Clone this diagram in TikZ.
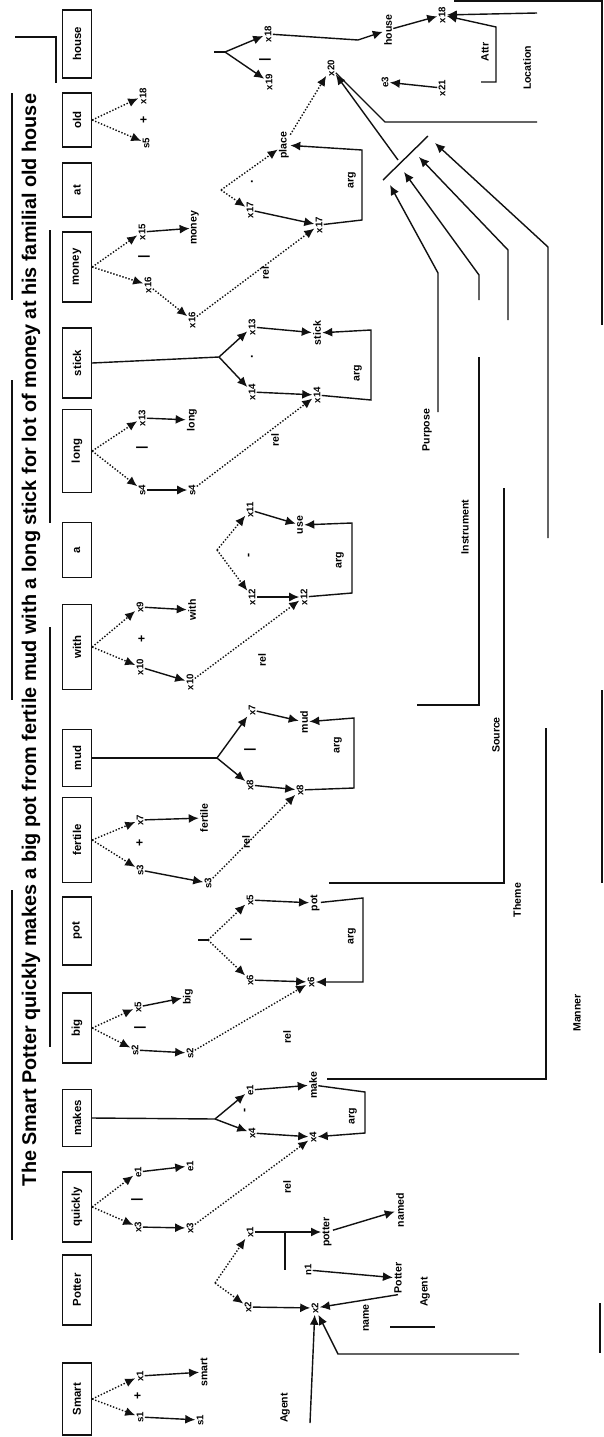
\documentclass[tikz,border=0pt]{standalone}
\usepackage{fontspec}
\setmainfont{Liberation Sans}
\usetikzlibrary{arrows.meta}
\definecolor{inkline}{HTML}{111111}
\tikzset{
  wordbox/.style={rectangle, draw=inkline, line width=0.8pt, rotate=90, minimum height=0.58cm, inner sep=1pt, font=\fontsize{6.5}{8}\selectfont\bfseries},
  var/.style={rotate=90, inner sep=0.6pt, font=\fontsize{5.5}{6}\selectfont\bfseries},
  pred/.style={rotate=90, inner sep=0.6pt, font=\fontsize{6}{7}\selectfont\bfseries},
  role/.style={rotate=90, inner sep=0.6pt, font=\fontsize{6}{7}\selectfont\bfseries},
  signmark/.style={rotate=90, inner sep=0pt, font=\fontsize{7}{8}\selectfont\bfseries},
  headline/.style={rotate=90, inner sep=0pt, font=\fontsize{11.3}{13}\selectfont\bfseries},
  link/.style={line width=0.8pt, draw=inkline},
  flow/.style={-{Latex[length=2mm, width=1.8mm]}, line width=0.8pt, draw=inkline},
  dots/.style={flow, densely dotted}
}
\begin{document}
\begin{tikzpicture}[x=0.02cm, y=-0.02cm]
\useasboundingbox (0,0) rectangle (603,1437);

% sentence and frame
\node[headline] (sentence) at (31,640) {The Smart Potter quickly makes a big pot from fertile mud with a long stick for lot of money at his familial old house};
\draw[link] (12,93) -- (12,300);
\draw[link] (12,380) -- (12,700);
\draw[link] (12,890) -- (12,1240);
\draw[link] (15,37) -- (56,37) -- (56,83);
\draw[link] (50,230) -- (50,523);
\draw[link] (50,627) -- (50,1047);
\draw[link] (454,1) -- (602,1) -- (602,325);
\draw[link] (602,690) -- (602,883);
\draw[link] (600,1303) -- (600,1353);

% word boxes
\node[wordbox, minimum width=1.44cm] (smartw) at (77,1399) {Smart};
\node[wordbox, minimum width=1.40cm] (potterw) at (77,1290) {Potter};
\node[wordbox, minimum width=1.40cm] (quicklyw) at (77,1207) {quickly};
\node[wordbox, minimum width=1.14cm] (makesw) at (77,1118) {makes};
\node[wordbox, minimum width=1.40cm] (bigw) at (77,1028) {big};
\node[wordbox, minimum width=1.36cm] (potw) at (77,931) {pot};
\node[wordbox, minimum width=1.70cm] (fertilew) at (77,840) {fertile};
\node[wordbox, minimum width=1.14cm] (mudw) at (77,758) {mud};
\node[wordbox, minimum width=1.70cm] (withw) at (77,647) {with};
\node[wordbox, minimum width=1.10cm] (aw) at (77,550) {a};
\node[wordbox, minimum width=1.66cm] (longw) at (77,451) {long};
\node[wordbox, minimum width=1.40cm] (stickw) at (77,363) {stick};
\node[wordbox, minimum width=1.40cm] (moneyw) at (77,267) {money};
\node[wordbox, minimum width=1.08cm] (atw) at (77,190) {at};
\node[wordbox, minimum width=1.08cm] (oldw) at (77,120) {old};
\node[wordbox, minimum width=1.36cm] (housew) at (77,44) {house};

% Smart
\node[var] (sma) at (140,1376) {x1};
\node[var] (smb) at (140,1417) {s1};
\node[signmark] (smsign) at (138,1396) {+};
\node[pred] (smp) at (204,1372) {smart};
\node[var] (sms) at (200,1420) {s1};
\draw[dots] (smartw.south) -- (sma);
\draw[dots] (smartw.south) -- (smb);
\draw[flow] (sma) -- (smp);
\draw[flow] (smb) -- (sms);

% Potter
\coordinate (ptrfork) at (215,1283);
\coordinate (ptrbranch) at (285,1232);
\coordinate (ptrin) at (310,1423);
\coordinate (ptrside) at (519,1354);
\coordinate (ptrbend) at (338,1354);
\coordinate (ptrl1) at (390,1327);
\coordinate (ptrl2) at (435,1327);
\node[var] (ptra) at (250,1232) {x1};
\node[var] (ptrc) at (248,1307) {x2};
\node[pred] (ptrp) at (327,1232) {potter};
\node[var] (ptrn) at (308,1270) {n1};
\node[pred] (ptrnm) at (400,1210) {named};
\node[pred] (ptrq) at (398,1278) {Potter};
\node[var] (ptrb) at (315,1308) {x2};
\node[role] (ptrname) at (366,1318) {name};
\node[role] (ptrrole) at (425,1292) {Agent};
\node[role] (ptrag) at (285,1408) {Agent};
\draw[dots] (ptrfork) -- (ptra);
\draw[dots] (ptrfork) -- (ptrc);
\draw[flow] (ptra) -- (ptrp);
\draw[link] (ptrbranch) -- (ptrbranch |- ptrn);
\draw[flow] (ptrp) -- (ptrnm);
\draw[flow] (ptrn) -- (ptrq);
\draw[flow] (ptrq.west) -- (ptrb);
\draw[flow] (ptrc) -- (ptrb);
\draw[flow] (ptrin) -- (ptrb);
\draw[flow] (ptrside) -- (ptrbend) -- (ptrb);
\draw[link] (ptrl1) -- (ptrl2);

% quickly
\node[var] (qua) at (138,1172) {e1};
\node[var] (qub) at (138,1227) {x3};
\node[signmark] (qusign) at (137,1200) {|};
\node[var] (quc) at (190,1166) {e1};
\node[var] (qud) at (190,1228) {x3};
\node[role] (qurel) at (287,1187) {rel};
\draw[dots] (quicklyw.south) -- (qua);
\draw[dots] (quicklyw.south) -- (qub);
\draw[flow] (qua) -- (quc);
\draw[flow] (qub) -- (qud);

% makes
\coordinate (mkfork) at (215,1119);
\coordinate (mktop) at (546,728);
\node[var] (mka) at (250,1090) {e1};
\node[var] (mkc) at (252,1133) {x4};
\node[signmark] (mksign) at (246,1110) {-};
\node[pred] (mkp) at (313,1085) {make};
\node[var] (mkb) at (313,1137) {x4};
\node[role] (mkarg) at (353,1116) {arg};
\draw[link] (makesw.south) -- (mkfork);
\draw[flow] (mkfork) -- (mka);
\draw[flow] (mkfork) -- (mkc);
\draw[flow] (mka) -- (mkp);
\draw[flow] (mkc) -- (mkb);
\draw[flow] (mkp) -- (365,1092) -- (365,1133) -- (mkb);
\draw[link] (mkp.south) ++(9,-6) -- (546,1079) -- (mktop);
\draw[dots] (qud) -- (mkb);

% big
\node[var] (bga) at (138,1007) {x5};
\node[var] (bgb) at (135,1050) {s2};
\node[signmark] (bgsign) at (140,1028) {|};
\node[pred] (bgp) at (188,997) {big};
\node[var] (bgs) at (190,1053) {s2};
\node[role] (bgrel) at (287,1037) {rel};
\draw[dots] (bigw.south) -- (bga);
\draw[dots] (bigw.south) -- (bgb);
\draw[flow] (bga) -- (bgp);
\draw[flow] (bgb) -- (bgs);

% pot
\coordinate (ptstub) at (198,940);
\coordinate (ptfork) at (208,940);
\coordinate (pttop) at (504,488);
\node[var] (pta) at (250,900) {x5};
\node[var] (ptc) at (250,980) {x6};
\node[signmark] (ptsign) at (246,940) {|};
\node[pred] (ptp) at (315,903) {pot};
\node[var] (ptb) at (311,982) {x6};
\node[role] (ptarg) at (352,936) {arg};
\node[role] (pttheme) at (517,900) {Theme};
\node[role] (ptmanner) at (577,1013) {Manner};
\draw[link] (ptstub) -- (ptfork);
\draw[dots] (ptfork) -- (pta);
\draw[dots] (ptfork) -- (ptc);
\draw[flow] (pta) -- (ptp);
\draw[flow] (ptc) -- (ptb);
\draw[flow] (ptp) -- (363,898) -- (363,982) -- (ptb);
\draw[link] (ptp.south) ++(8,-20) -- (504,883) -- (pttop);
\draw[dots] (bgs) -- (ptb);

% fertile
\node[var] (fta) at (140,820) {x7};
\node[var] (ftb) at (140,870) {s3};
\node[signmark] (ftsign) at (140,843) {+};
\node[pred] (ftp) at (204,818) {fertile};
\node[var] (fts) at (208,883) {s3};
\node[role] (ftrel) at (246,842) {rel};
\draw[dots] (fertilew.south) -- (fta);
\draw[dots] (fertilew.south) -- (ftb);
\draw[flow] (fta) -- (ftp);
\draw[flow] (ftb) -- (fts);

% mud
\coordinate (mdfork) at (217,758);
\coordinate (mdend) at (417,705);
\node[var] (mda) at (252,710) {x7};
\node[var] (mdc) at (250,785) {x8};
\node[signmark] (mdsign) at (250,750) {|};
\node[pred] (mdp) at (304,722) {mud};
\node[var] (mdb) at (300,790) {x8};
\node[role] (mdarg) at (338,745) {arg};
\node[role] (mdsource) at (496,735) {Source};
\draw[link] (mudw.south) -- (mdfork);
\draw[flow] (mdfork) -- (mda);
\draw[flow] (mdfork) -- (mdc);
\draw[flow] (mda) -- (mdp);
\draw[flow] (mdc) -- (mdb);
\draw[flow] (mdb) -- (354,788) -- (354,718) -- (mdp);
\draw[link] (mdend) -- (479,705) -- (479,357);
\draw[dots] (fts) -- (mdb);

% with
\node[var] (wta) at (140,607) {x9};
\node[var] (wtb) at (140,667) {x10};
\node[signmark] (wtsign) at (142,639) {+};
\node[pred] (wtp) at (192,610) {with};
\node[var] (wts) at (190,682) {x10};
\node[role] (wtrel) at (262,660) {rel};
\draw[dots] (withw.south) -- (wta);
\draw[dots] (withw.south) -- (wtb);
\draw[flow] (wta) -- (wtp);
\draw[flow] (wtb) -- (wts);

% a
\coordinate (afork) at (217,550);
\node[var] (aa) at (250,510) {x11};
\node[var] (ac) at (252,597) {x12};
\node[signmark] (asign) at (250,555) {-};
\node[pred] (ap) at (300,525) {use};
\node[var] (ab) at (304,597) {x12};
\node[role] (aarg) at (340,560) {arg};
\node[role] (ainstr) at (465,527) {Instrument};
\draw[dots] (afork) -- (aa);
\draw[dots] (afork) -- (ac);
\draw[flow] (aa) -- (ap);
\draw[flow] (ac) -- (ab);
\draw[flow] (ab) -- (352,593) -- (352,523) -- (ap);
\draw[dots] (wts) -- (ab);

% long
\node[var] (lga) at (142,418) {x13};
\node[var] (lgb) at (142,490) {s4};
\node[signmark] (lgsign) at (142,448) {|};
\node[pred] (lgp) at (192,420) {long};
\node[var] (lgs) at (192,490) {s4};
\node[role] (lgrel) at (275,440) {rel};
\draw[dots] (longw.south) -- (lga);
\draw[dots] (longw.south) -- (lgb);
\draw[flow] (lga) -- (lgp);
\draw[flow] (lgb) -- (lgs);

% stick
\coordinate (skfork) at (219,357);
\coordinate (skend) at (438,412);
\node[var] (ska) at (252,327) {x13};
\node[var] (skc) at (252,392) {x14};
\node[signmark] (sksign) at (252,357) {.};
\node[pred] (skp) at (317,333) {stick};
\node[var] (skb) at (317,395) {x14};
\node[role] (skarg) at (358,373) {arg};
\node[role] (skpurp) at (427,430) {Purpose};
\draw[link] (stickw.south) -- (skfork);
\draw[flow] (skfork) -- (ska);
\draw[flow] (skfork) -- (skc);
\draw[flow] (ska) -- (skp);
\draw[flow] (skc) -- (skb);
\draw[flow] (skb) -- (371,400) -- (371,330) -- (skp);
\draw[dots] (lgs) -- (skb);

% money
\node[var] (mna) at (142,232) {x15};
\node[var] (mnb) at (148,285) {x16};
\node[signmark] (mnsign) at (144,257) {|};
\node[pred] (mnp) at (195,228) {money};
\node[var] (mns) at (192,320) {x16};
\node[role] (mnrel) at (265,273) {rel};
\draw[dots] (moneyw.south) -- (mna);
\draw[dots] (moneyw.south) -- (mnb);
\draw[flow] (mna) -- (mnp);
\draw[dots] (mnb) -- (mns);

% at
\coordinate (atfork) at (221,190);
\node[pred] (ata) at (284,145) {place};
\node[var] (atc) at (250,210) {x17};
\node[signmark] (atsign) at (252,182) {.};
\node[var] (ath) at (319,225) {x17};
\node[role] (atarg) at (352,180) {arg};
\draw[dots] (atfork) -- (ata);
\draw[dots] (atfork) -- (atc);
\draw[flow] (atc) -- (ath);
\draw[flow] (ath) -- (362,220) -- (362,150) -- (ata);
\draw[dots] (mns) -- (ath);

% old
\node[var] (oda) at (143,96) {x18};
\node[var] (odb) at (146,143) {s5};
\node[signmark] (odsign) at (144,120) {+};
\draw[dots] (oldw.south) -- (oda);
\draw[dots] (oldw.south) -- (odb);

% house
\coordinate (hsstub) at (214,52);
\coordinate (hsfork) at (225,52);
\coordinate (hsr1) at (537,13);
\coordinate (hsr2) at (481,82);
\coordinate (hsright) at (537,122);
\node[var] (hsa) at (268,34) {x18};
\node[var] (hsb) at (269,82) {x19};
\node[signmark] (hssign) at (265,60) {|};
\node[pred] (hsp) at (388,30) {house};
\node[var] (hsq) at (442,15) {x18};
\node[var] (hsc) at (331,68) {x20};
\node[var] (hse) at (385,82) {e3};
\node[var] (hsf) at (442,88) {x21};
\node[role] (hsattr) at (485,52) {Attr};
\node[role] (hsloc) at (527,68) {Location};
\draw[link] (hsstub) -- (hsfork);
\draw[flow] (hsfork) -- (hsa);
\draw[flow] (hsfork) -- (hsb);
\draw[flow] (hsa) -- (358,40) -- (hsp);
\draw[flow] (hsp) -- (hsq);
\draw[flow] (hsr1) -- (hsq);
\draw[flow] (hsr2) -- (496,82) -- (496,27) -- (hsq);
\draw[flow] (hsf) -- (hse);
\draw[link] (hsc) -- (385,122) -- (hsright);
\draw[dots] (ata) -- (hsc);

% role lines meeting at the top
\coordinate (hub0) at (390,185);
\coordinate (hub1) at (404,172);
\coordinate (hub2) at (419,157);
\coordinate (hub3) at (435,143);
\coordinate (hublow) at (383,180);
\coordinate (hubhigh) at (428,136);
\coordinate (hubmid) at (398,160);
\draw[flow] (skend) -- (438,273) -- (hub0);
\draw[flow] (479,300) -- (479,275) -- (hub1);
\draw[flow] (508,320) -- (508,250) -- (hub2);
\draw[flow] (548,538) -- (548,247) -- (hub3);
\draw[link] (hublow) -- (hubhigh);
\draw[flow] (hubmid) -- (hsc);

\end{tikzpicture}
\end{document}
